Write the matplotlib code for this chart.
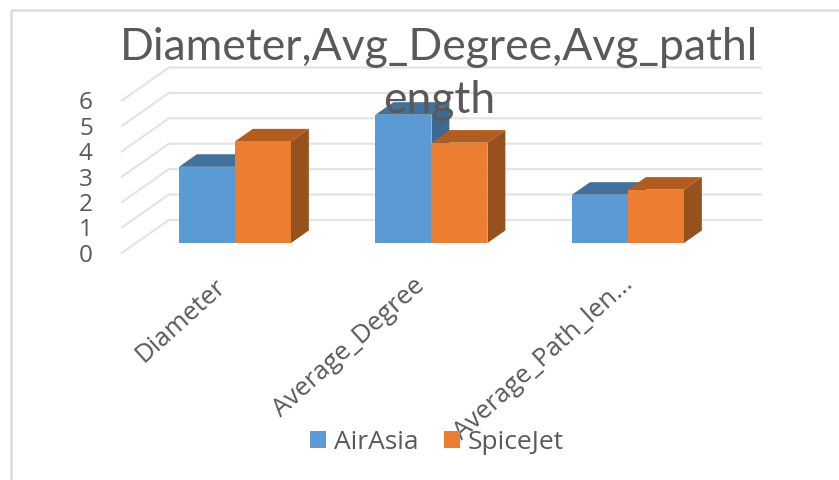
import matplotlib
matplotlib.use('Agg')
import matplotlib.pyplot as plt
from matplotlib.patches import Polygon

# 資料
categories = ['Diameter', 'Average_Degree', 'Average_Path_len...']
airasia = [3.0, 5.05, 1.9]
spicejet = [4.0, 3.95, 2.1]
y_ticks = [0, 1, 2, 3, 4, 5, 6]

blue = ['#5b9bd5', '#41719c', '#3c6a94']
orange = ['#ed7d31', '#b25c1f', '#97511c']
text_color = '#595959'
grid_color = '#e3e3e3'

W, H = 839, 481
px_x = 196.5   # 每個類別的寬度 (px)
px_y = 25.4    # 每個單位的高度 (px)
bar_w = 56 / px_x
depth_x = 47 / px_x
depth_y = 33 / px_y

plt.rcParams['font.family'] = ['Open Sans', 'DejaVu Sans']
fig = plt.figure(figsize=(W / 100, H / 100), dpi=100)
ax = fig.add_axes([0, 0, 1, 1])
ax.set_xlim(-235 / px_x, (W - 235) / px_x)
ax.set_ylim((244 - H) / px_y, 244 / px_y)
ax.axis('off')

# 外框
ax.plot([11 / W, 11 / W, 1], [0, 1 - 11 / H, 1 - 11 / H], transform=ax.transAxes,
        color='#dcdcdc', lw=1.8, clip_on=False)

# 牆面格線 (長條在深度 0.3 的位置)
wall_x = -0.3 * depth_x - 99 / px_x
wall_y = -0.3 * depth_y
right_x = (761 - 235) / px_x
for t in y_ticks:
    y0 = t + wall_y
    ax.plot([wall_x, wall_x + depth_x, right_x], [y0, y0 + depth_y, y0 + depth_y],
            color=grid_color, lw=1.5, solid_joinstyle='round', zorder=1)
    ax.text(wall_x - 36 / px_x, y0 - 2 / px_y, str(t), color=text_color, fontsize=17.5,
            ha='center', va='center', zorder=2)


def draw_bar(x0, v, colors, z):
    # 長條的深度約為牆面深度的 0.38
    dx = depth_x * 0.38
    dy = depth_y * 0.38
    ax.add_patch(Polygon([(x0, v), (x0 + bar_w, v), (x0 + bar_w + dx, v + dy), (x0 + dx, v + dy)],
                         fc=colors[1], ec='none', zorder=z))
    ax.add_patch(Polygon([(x0 + bar_w, 0), (x0 + bar_w + dx, dy), (x0 + bar_w + dx, v + dy), (x0 + bar_w, v)],
                         fc=colors[2], ec='none', zorder=z))
    ax.add_patch(Polygon([(x0, 0), (x0 + bar_w, 0), (x0 + bar_w, v), (x0, v)],
                         fc=colors[0], ec='none', zorder=z))


label_dx = [-21, -19, -7]
label_dy = [-30, -29, -28]
for i in range(len(categories)):
    draw_bar(i - bar_w, airasia[i], blue, 3 + i)
    draw_bar(i, spicejet[i], orange, 3.5 + i)
    # 類別標籤
    ax.annotate(categories[i], (i, 0), xytext=(label_dx[i] * 0.72, label_dy[i] * 0.72), textcoords='offset points',
                rotation=42, rotation_mode='anchor', ha='right', va='top',
                color=text_color, fontsize=18.5, zorder=8)

# 標題蓋在格線和長條上面
ax.text(439 / W, 1 - 60 / H, 'Diameter,Avg_Degree,Avg_pathl', transform=ax.transAxes,
        color=text_color, fontfamily='Lato', fontsize=32, ha='center', va='baseline', zorder=10)
ax.text(439 / W, 1 - 113 / H, 'ength', transform=ax.transAxes,
        color=text_color, fontfamily='Lato', fontsize=32, ha='center', va='baseline', zorder=10)

# 圖例
handles = [Polygon([(0, 0)], fc=blue[0]), Polygon([(0, 0)], fc=orange[0])]
ax.legend(handles, ['AirAsia', 'SpiceJet'], loc='center', bbox_to_anchor=(437 / W, 1 - 443 / H),
          ncol=2, frameon=False, fontsize=19, labelcolor=text_color, handlelength=0.6,
          handleheight=0.6, handletextpad=0.3, columnspacing=0.95, borderpad=0).set_zorder(9)

fig.savefig('out.png', dpi=100)
